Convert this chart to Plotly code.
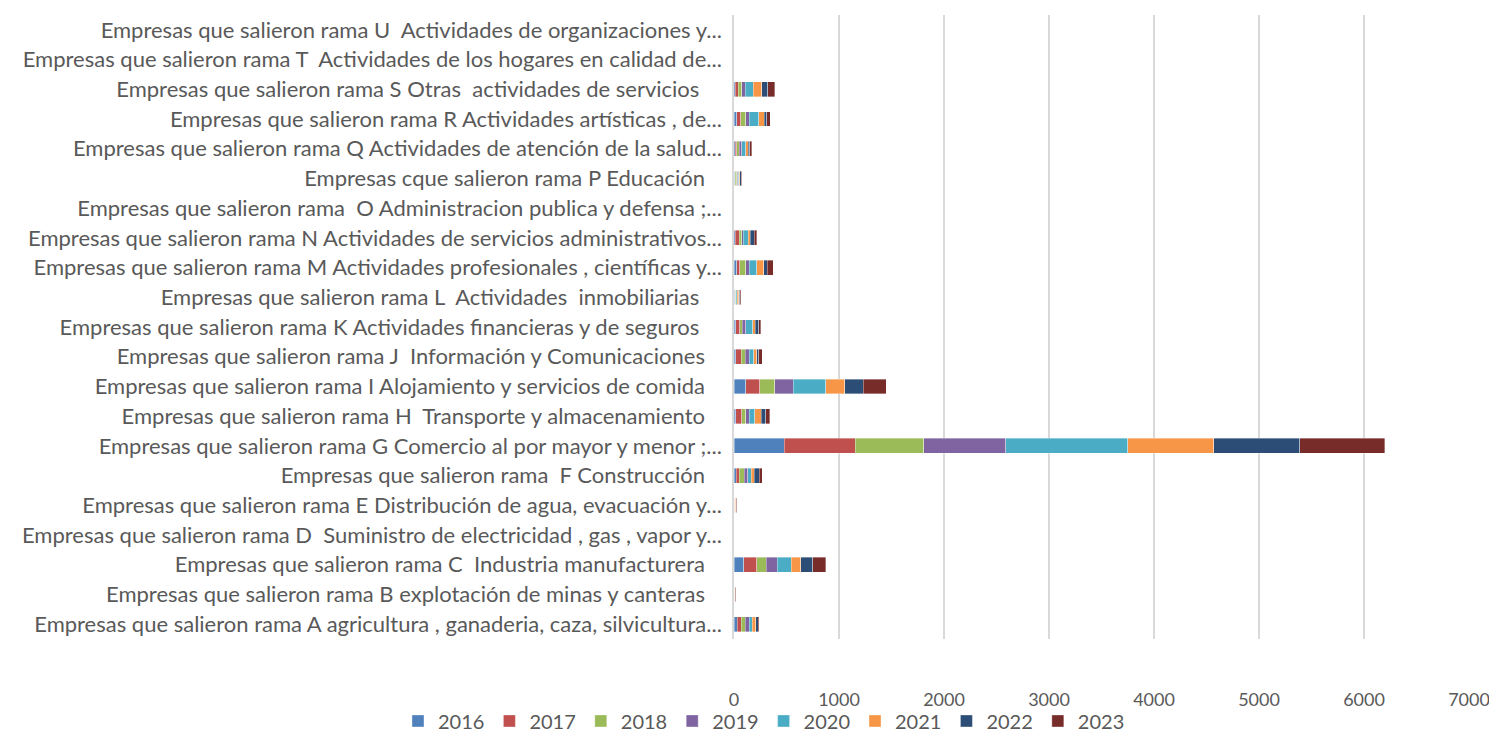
import plotly.graph_objects as go

NB = "\u00a0"

categories = [
    "Empresas que salieron rama A agricultura , ganaderia, caza, silvicultura...",
    "Empresas que salieron rama B explotación de minas y canteras   ",
    "Empresas que salieron rama C  Industria manufacturera   ",
    "Empresas que salieron rama D  Suministro de electricidad , gas , vapor y...",
    "Empresas que salieron rama E Distribución de agua, evacuación y...",
    "Empresas que salieron rama  F Construcción   ",
    "Empresas que salieron rama G Comercio al por mayor y menor ;...",
    "Empresas que salieron rama H  Transporte y almacenamiento   ",
    "Empresas que salieron rama I Alojamiento y servicios de comida   ",
    "Empresas que salieron rama J  Información y Comunicaciones   ",
    "Empresas que salieron rama K Actividades financieras y de seguros    ",
    "Empresas que salieron rama L  Actividades  inmobiliarias    ",
    "Empresas que salieron rama M Actividades profesionales , científicas y...",
    "Empresas que salieron rama N Actividades de servicios administrativos...",
    "Empresas que salieron rama  O Administracion publica y defensa ;...",
    "Empresas cque salieron rama P Educación   ",
    "Empresas que salieron rama Q Actividades de atención de la salud...",
    "Empresas que salieron rama R Actividades artísticas , de...",
    "Empresas que salieron rama S Otras  actividades de servicios    ",
    "Empresas que salieron rama T  Actividades de los hogares en calidad de...",
    "Empresas que salieron rama U  Actividades de organizaciones y...",
]

years = ["2016", "2017", "2018", "2019", "2020", "2021", "2022", "2023"]

# values per category (A..U), per year 2016..2023
v_A = [29, 41, 38, 35, 29, 35, 22, 13]
v_B = [1, 2, 2, 2, 3, 2, 2, 1]
v_C = [95, 121, 92, 105, 130, 95, 114, 121]
v_D = [0, 0, 0, 0, 0, 0, 0, 0]
v_E = [2, 3, 3, 3, 3, 3, 4, 4]
v_F = [19, 29, 51, 32, 32, 32, 44, 32]
v_G = [480, 675, 653, 781, 1163, 819, 819, 807]
v_H = [16, 57, 38, 35, 51, 63, 41, 41]
v_I = [111, 133, 146, 172, 311, 181, 175, 222]
v_J = [16, 54, 35, 38, 44, 29, 22, 32]
v_K = [16, 38, 25, 32, 67, 25, 35, 19]
v_L = [5, 5, 8, 5, 10, 10, 10, 10]
v_M = [25, 32, 54, 32, 73, 67, 32, 60]
v_N = [10, 38, 25, 13, 48, 19, 38, 25]
v_O = [0, 0, 0, 0, 0, 0, 0, 0]
v_P = [5, 8, 12, 10, 12, 10, 10, 9]
v_Q = [10, 16, 25, 22, 38, 25, 16, 19]
v_R = [25, 38, 48, 35, 92, 51, 22, 32]
v_S = [10, 32, 32, 32, 76, 82, 57, 67]
v_T = [0, 0, 0, 0, 0, 0, 0, 0]
v_U = [0, 0, 0, 0, 0, 0, 0, 0]

rows = [v_A, v_B, v_C, v_D, v_E, v_F, v_G, v_H, v_I, v_J, v_K,
        v_L, v_M, v_N, v_O, v_P, v_Q, v_R, v_S, v_T, v_U]

colors = ["#4F81BD", "#C0504D", "#9BBB59", "#8064A2",
          "#4BACC6", "#F79646", "#2C4D75", "#772C2A"]


def fix_spaces(s):
    # keep doubled and trailing spaces visible in SVG
    s = s.replace("  ", " " + NB)
    stripped = s.rstrip(" ")
    n = len(s) - len(stripped)
    return stripped + NB * n


labels = [fix_spaces(c) for c in categories]

fig = go.Figure()
for yi, year in enumerate(years):
    fig.add_trace(go.Bar(
        y=labels,
        x=[r[yi] for r in rows],
        name=year,
        orientation="h",
        marker=dict(color=colors[yi], line=dict(color="rgba(255,255,255,0.6)", width=0.6)),
    ))

fig.update_layout(
    barmode="stack",
    bargap=0.5,
    width=1497,
    height=732,
    paper_bgcolor="white",
    plot_bgcolor="white",
    margin=dict(l=726, r=36, t=7, b=101),
    font=dict(family="Lato, sans-serif", size=18, color="#595959"),
    legend=dict(
        orientation="h",
        x=0.505, xref="container",
        xanchor="center",
        y=0.026, yref="container", yanchor="middle",
        font=dict(size=20, color="#595959"),
        bgcolor="rgba(0,0,0,0)",
        traceorder="normal",
        itemwidth=30,
    ),
    xaxis=dict(
        range=[0, 7000],
        dtick=1000,
        showgrid=True,
        gridcolor="#D9D9D9",
        gridwidth=1.5,
        zeroline=False,
        showline=False,
        ticks="",
        automargin=False,
        ticklabelstandoff=48,
        tickfont=dict(size=18, color="#595959"),
    ),
    yaxis=dict(
        type="category",
        categoryorder="array",
        categoryarray=labels,
        showline=True,
        linecolor="#D9D9D9",
        linewidth=1.5,
        ticks="",
        automargin=False,
        tickfont=dict(size=22, color="#595959"),
        ticklabelstandoff=6,
    ),
)

fig.write_html("out.html")
